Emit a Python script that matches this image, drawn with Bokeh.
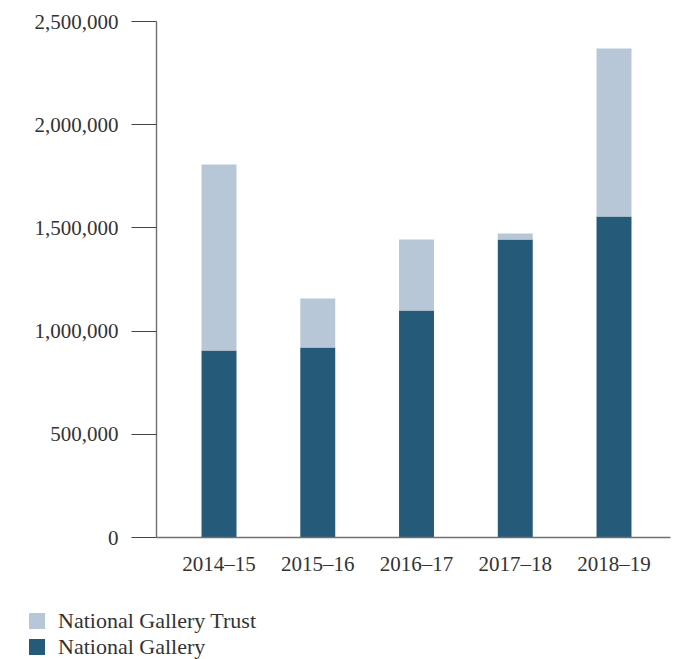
from bokeh.plotting import figure
from bokeh.layouts import column
from bokeh.models import ColumnDataSource, NumeralTickFormatter, FixedTicker, Range1d, Div
from bokeh.embed import file_html
from bokeh.resources import INLINE

years = ["2014–15", "2015–16", "2016–17", "2017–18", "2018–19"]
national_gallery = [906000, 920000, 1100000, 1444000, 1555000]
national_gallery_trust = [901000, 238000, 344000, 29000, 814000]
series_names = ["National Gallery", "National Gallery Trust"]
y_ticks = [0, 500000, 1000000, 1500000, 2000000, 2500000]

dark = "#255b78"
light = "#b7c7d8"
font = "Liberation Serif"
text_color = "#333333"
axis_color = "#707070"
fsize = "21px"

xs = list(range(len(years)))
source = ColumnDataSource(dict(x=xs, ng=national_gallery, ngt=national_gallery_trust))

p = figure(width=692, height=585, output_backend="svg", toolbar_location=None,
           x_range=Range1d(-0.633, 4.572), y_range=Range1d(0, 2500000),
           min_border_left=156, min_border_right=22, min_border_top=21, min_border_bottom=48)
p.outline_line_color = None
p.grid.grid_line_color = None

r = p.vbar_stack(["ng", "ngt"], x="x", width=0.354, source=source,
                 color=[dark, light], line_color=None)

xa = p.xaxis[0]
xa.ticker = FixedTicker(ticks=xs)
xa.major_label_overrides = {i: y for i, y in enumerate(years)}
xa.major_tick_out = 0
xa.major_tick_in = 0
xa.minor_tick_out = 0
xa.minor_tick_in = 0
xa.axis_line_color = axis_color
xa.axis_line_width = 1.4
xa.major_label_text_font = font
xa.major_label_text_font_size = fsize
xa.major_label_text_color = text_color
xa.major_label_standoff = 14

ya = p.yaxis[0]
ya.ticker = FixedTicker(ticks=y_ticks)
ya.formatter = NumeralTickFormatter(format="0,0")
ya.major_tick_out = 25
ya.major_tick_in = 0
ya.minor_tick_out = 0
ya.minor_tick_in = 0
ya.major_tick_line_color = "#444444"
ya.major_tick_line_width = 1.2
ya.axis_line_color = axis_color
ya.axis_line_width = 1.4
ya.major_label_text_font = font
ya.major_label_text_font_size = fsize
ya.major_label_text_color = text_color
ya.major_label_standoff = 13

# legend (HTML block below the plot)
rows = []
for label, colr in [(series_names[1], light), (series_names[0], dark)]:
    rows.append(
        f'<div style="display:flex;align-items:center;height:16px;margin-bottom:10px;white-space:nowrap;">'
        f'<span style="display:inline-block;width:16px;height:16px;background:{colr};margin-right:13px;"></span>'
        f'<span>{label}</span></div>'
    )
legend_html = (f'<div style="font-family:\'{font}\';font-size:22px;color:{text_color};'
               f'padding-left:29px;padding-top:28px;">' + "".join(rows) + '</div>')
legend_div = Div(text=legend_html, width=692, height=74, margin=0)

open("out.html", "w").write(file_html(column(p, legend_div, spacing=0), INLINE))
